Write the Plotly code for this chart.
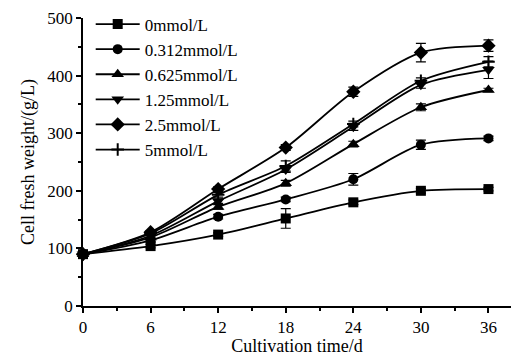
import plotly.graph_objects as go

days = [0, 6, 12, 18, 24, 30, 36]
labels = ["0mmol/L", "0.312mmol/L", "0.625mmol/L", "1.25mmol/L", "2.5mmol/L", "5mmol/L"]
y_0 = [90, 104, 124, 152, 180, 200, 203]
y_0312 = [90, 114, 155, 185, 220, 280, 291]
y_0625 = [90, 119, 172, 213, 281, 345, 375]
y_125 = [90, 122, 182, 237, 311, 384, 410]
y_25 = [90, 128, 203, 275, 372, 440, 452]
y_5 = [90, 126, 193, 243, 316, 391, 424]
err_0 = [4, 3, 3, 17, 4, 4, 3]
err_0312 = [3, 3, 4, 4, 10, 8, 4]
err_0625 = [3, 3, 4, 5, 5, 6, 3]
err_125 = [3, 3, 4, 5, 6, 6, 15]
err_25 = [3, 3, 4, 5, 8, 16, 10]
err_5 = [3, 3, 4, 9, 5, 5, 9]

series = [y_0, y_0312, y_0625, y_125, y_25, y_5]
errors = [err_0, err_0312, err_0625, err_125, err_25, err_5]
symbols = ["square", "circle", "triangle-up", "triangle-down", "diamond", "cross-thin"]
sizes = [10, 10, 11, 11, 11, 9]

FONT = "Liberation Serif"
fig = go.Figure()
for i, (lab, ys, er, sym, sz) in enumerate(zip(labels, series, errors, symbols, sizes)):
    fig.add_trace(go.Scatter(
        x=days, y=ys, name=lab, mode="lines+markers",
        line=dict(color="black", width=1.8, shape="spline", smoothing=0.8),
        marker=dict(symbol=sym, size=sz, color="black",
                    line=dict(color="black", width=2 if sym == "cross-thin" else 0)),
        error_y=dict(type="data", array=er, color="black", thickness=1.2, width=5),
        cliponaxis=False,
    ))

fig.update_layout(
    width=511, height=356,
    margin=dict(l=83, r=0, t=18, b=50),
    paper_bgcolor="white", plot_bgcolor="white",
    font=dict(family=FONT, size=17, color="black"),
    showlegend=True,
    legend=dict(x=0.018, y=1.04, xanchor="left", yanchor="top",
                bgcolor="rgba(0,0,0,0)", font=dict(family=FONT, size=17, color="black"),
                itemwidth=44),
    xaxis=dict(range=[0, 38], tickvals=[0, 6, 12, 18, 24, 30, 36],
               showline=True, linecolor="black", linewidth=1.5,
               ticks="outside", ticklen=5, tickcolor="black", tickwidth=1.5,
               minor=dict(tickvals=[3, 9, 15, 21, 27, 33], ticks="outside", ticklen=3, tickcolor="black", tickwidth=1.5),
               showgrid=False, zeroline=False,
               title=dict(text="Cultivation time/d", standoff=4, font=dict(family=FONT, size=18, color="black")),
               tickfont=dict(family=FONT, size=17, color="black")),
    yaxis=dict(range=[0, 500], tickvals=[0, 100, 200, 300, 400, 500],
               showline=True, linecolor="black", linewidth=1.5,
               ticks="outside", ticklen=5, tickcolor="black", tickwidth=1.5,
               minor=dict(tickvals=[50, 150, 250, 350, 450], ticks="outside", ticklen=3, tickcolor="black", tickwidth=1.5),
               showgrid=False, zeroline=False,
               title=dict(text="Cell fresh weight/(g/L)", standoff=8, font=dict(family=FONT, size=18, color="black")),
               tickfont=dict(family=FONT, size=17, color="black")),
)
fig.write_html("out.html")
